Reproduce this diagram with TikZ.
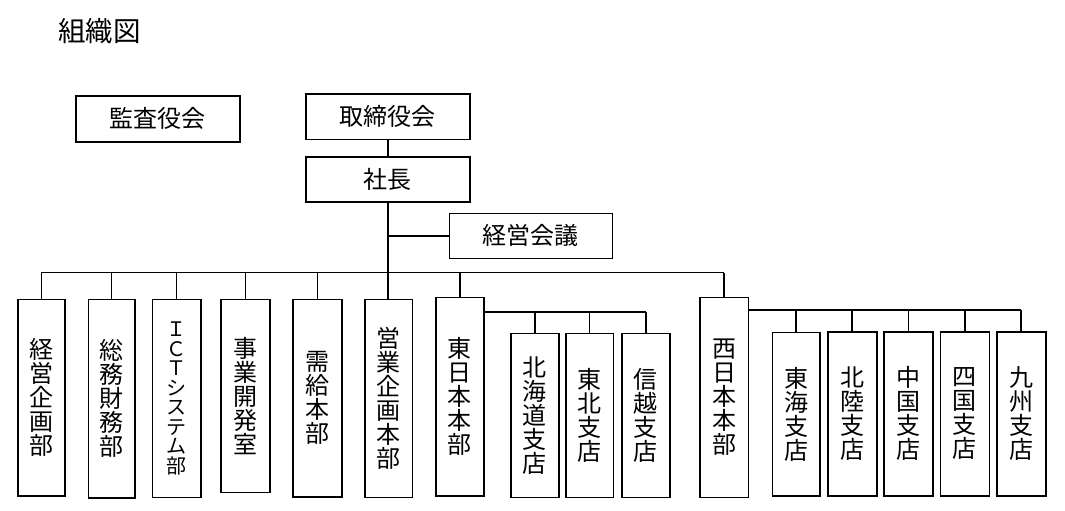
\documentclass[tikz,border=0pt]{standalone}
\usepackage{fontspec}
\setmainfont{Noto Sans CJK JP}
\usetikzlibrary{calc}
\tikzset{
  box/.style={draw, line width=1.6pt, inner sep=0pt, align=center,
    font=\fontsize{24}{24}\selectfont},
  small/.style={font=\fontsize{20}{19.5}\selectfont},
  wire/.style={line width=1.6pt},
  titletext/.style={inner sep=0pt, anchor=west, font=\fontsize{27.5}{27.5}\selectfont}
}
\newcommand\orgbox[7][]{\node[box,#1,minimum width={#5pt-#3pt},minimum height={#6pt-#4pt}] (#2) at ({(#3+#5)/2},{(#4+#6)/2}) {#7};}
\begin{document}
\begin{tikzpicture}[x=1pt,y=-1pt]
\useasboundingbox (0,0) rectangle (1065,511);
\node[titletext] (title) at (58,31) {組織図};
\orgbox{kansa}{75.7}{95.7}{240}{141.7}{監査役会}
\orgbox{tori}{305.7}{94}{470}{139.3}{取締役会}
\orgbox{shacho}{305.7}{156.7}{470}{201.7}{社長}
\orgbox{kaigi}{449.3}{213.3}{612.3}{258.3}{経営会議}
\orgbox{b1}{18}{299.3}{64.7}{495.7}{経\\営\\企\\画\\部}
\orgbox{b2}{88.3}{299.3}{135}{497.7}{総\\務\\財\\務\\部}
\orgbox[small]{b3}{152.3}{299.3}{201}{497.3}{Ｉ\\Ｃ\\Ｔ\\シ\\ス\\テ\\ム\\部}
\orgbox{b4}{221}{299.3}{270}{492.3}{事\\業\\開\\発\\室}
\orgbox{b5}{293}{299.3}{341.7}{496.7}{需\\給\\本\\部}
\orgbox{b6}{365}{299.3}{412.3}{497.3}{営\\業\\企\\画\\本\\部}
\orgbox{b7}{435.7}{297.3}{483.7}{496}{東\\日\\本\\本\\部}
\orgbox{b8}{510.7}{333.3}{558.7}{497.3}{北\\海\\道\\支\\店}
\orgbox{b9}{565.7}{333.3}{613.3}{497.3}{東\\北\\支\\店}
\orgbox{b10}{621.7}{333.3}{670}{497.3}{信\\越\\支\\店}
\orgbox{b11}{700}{297.3}{748.3}{497.3}{西\\日\\本\\本\\部}
\orgbox{b12}{772.3}{332.3}{820}{495.7}{東\\海\\支\\店}
\orgbox{b13}{827.7}{331.7}{876.7}{496}{北\\陸\\支\\店}
\orgbox{b14}{884}{331.7}{932.7}{496}{中\\国\\支\\店}
\orgbox{b15}{940.3}{331.7}{989.3}{496}{四\\国\\支\\店}
\orgbox{b16}{996.7}{331.7}{1045.7}{496}{九\\州\\支\\店}
% connectors
\coordinate (busY) at (0,272.5);
\coordinate (ebus) at (0,311.7);
\coordinate (wbus) at (0,310);
\draw[wire] (tori.south) -- (shacho.north);
\draw[wire] (shacho.south) -- (shacho.south |- b6.north);
\draw[wire] (shacho.south |- kaigi.west) -- (kaigi.west);
\draw[wire] (b1.north |- busY) -- (b11.north |- busY);
\foreach \b in {b1,b2,b3,b4,b5,b7,b11} {
  \draw[wire] (\b.north) -- (\b.north |- busY);
}
\draw[wire] (b7.east |- ebus) -- (b10.north |- ebus);
\foreach \b in {b8,b9,b10} {
  \draw[wire] (\b.north) -- (\b.north |- ebus);
}
\draw[wire] (b11.east |- wbus) -- (b16.north |- wbus);
\foreach \b in {b12,b13,b14,b15,b16} {
  \draw[wire] (\b.north) -- (\b.north |- wbus);
}
\end{tikzpicture}
\end{document}
